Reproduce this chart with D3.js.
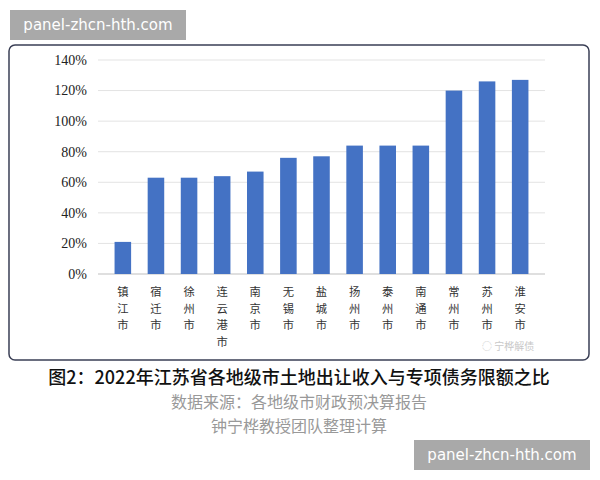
<!DOCTYPE html>
<html><head><meta charset="utf-8">
<script src="https://cdn.jsdelivr.net/npm/d3@7"></script>
<style>body{margin:0;background:#fff;}</style>
</head><body><div id="chart"></div>
<script>
// Data
var cities = ["镇江市","宿迁市","徐州市","连云港市","南京市","无锡市","盐城市","扬州市","泰州市","南通市","常州市","苏州市","淮安市"];
var ratios = [21, 63, 63, 64, 67, 76, 77, 84, 84, 84, 120, 126, 127];
var yTicks = [0, 20, 40, 60, 80, 100, 120, 140];

var svg = d3.select("#chart").append("svg")
  .attr("width", 600).attr("height", 480);

// panel frame
svg.append("rect")
  .attr("x", 9).attr("y", 45).attr("width", 580).attr("height", 315)
  .attr("rx", 6).attr("fill", "#fff")
  .attr("stroke", "#3a3f55").attr("stroke-width", 1.5);

var x = d3.scaleBand().domain(cities).range([98, 545]).padding(0.5);
var y = d3.scaleLinear().domain([0, 140]).range([274, 60]);

// gridlines
svg.append("g").selectAll("line").data(yTicks).enter().append("line")
  .attr("x1", 98).attr("x2", 545)
  .attr("y1", d => y(d)).attr("y2", d => y(d))
  .attr("stroke", d => d === 0 ? "#bfbfbf" : "#e3e3e3");

// y labels
svg.append("g").selectAll("text").data(yTicks).enter().append("text")
  .attr("x", 87).attr("y", d => y(d)).attr("dy", "0.35em")
  .attr("text-anchor", "end")
  .attr("font-family", "Liberation Serif, serif").attr("font-size", 14)
  .attr("fill", "#222").text(d => d + "%");

// bars
svg.append("g").selectAll("rect").data(ratios).enter().append("rect")
  .attr("x", (d, i) => x(cities[i]))
  .attr("width", x.bandwidth())
  .attr("y", d => y(d))
  .attr("height", d => y(0) - y(d))
  .attr("fill", "#4472c4");

// vertical city labels, one text per character
var chars = [];
cities.forEach(c => c.split("").forEach((ch, k) => chars.push({c: c, ch: ch, k: k})));
svg.append("g").selectAll("text").data(chars).enter().append("text")
  .attr("text-anchor", "middle")
  .attr("x", d => x(d.c) + x.bandwidth() / 2)
  .attr("y", d => 296 + d.k * 16.5)
  .attr("font-family", "Noto Sans CJK SC, sans-serif").attr("font-size", 11.3)
  .attr("fill", "#333").text(d => d.ch);

// small watermark in panel
svg.append("text").attr("x", 482).attr("y", 350)
  .attr("font-family", "Noto Sans CJK SC, sans-serif").attr("font-size", 10)
  .attr("fill", "#c8c8c8").text("◌ 宁桦解债");

// captions
svg.append("text").attr("x", 299).attr("y", 384).attr("text-anchor", "middle")
  .attr("font-family", "Noto Sans CJK SC, sans-serif").attr("font-size", 18)
  .attr("font-weight", 500).attr("fill", "#111")
  .text("图2：2022年江苏省各地级市土地出让收入与专项债务限额之比");
svg.append("text").attr("x", 299).attr("y", 408).attr("text-anchor", "middle")
  .attr("font-family", "Noto Sans CJK SC, sans-serif").attr("font-size", 16)
  .attr("fill", "#999").text("数据来源：各地级市财政预决算报告");
svg.append("text").attr("x", 299).attr("y", 432).attr("text-anchor", "middle")
  .attr("font-family", "Noto Sans CJK SC, sans-serif").attr("font-size", 16)
  .attr("fill", "#999").text("钟宁桦教授团队整理计算");

// site tags
[[10, 10], [414, 440]].forEach(p => {
  svg.append("rect").attr("x", p[0]).attr("y", p[1]).attr("width", 176).attr("height", 30)
    .attr("fill", "#a9a9a9");
  svg.append("text").attr("x", p[0] + 88).attr("y", p[1] + 20).attr("text-anchor", "middle")
    .attr("font-family", "DejaVu Sans, sans-serif").attr("font-size", 15)
    .attr("fill", "#fff").text("panel-zhcn-hth.com");
});
</script></body></html>
